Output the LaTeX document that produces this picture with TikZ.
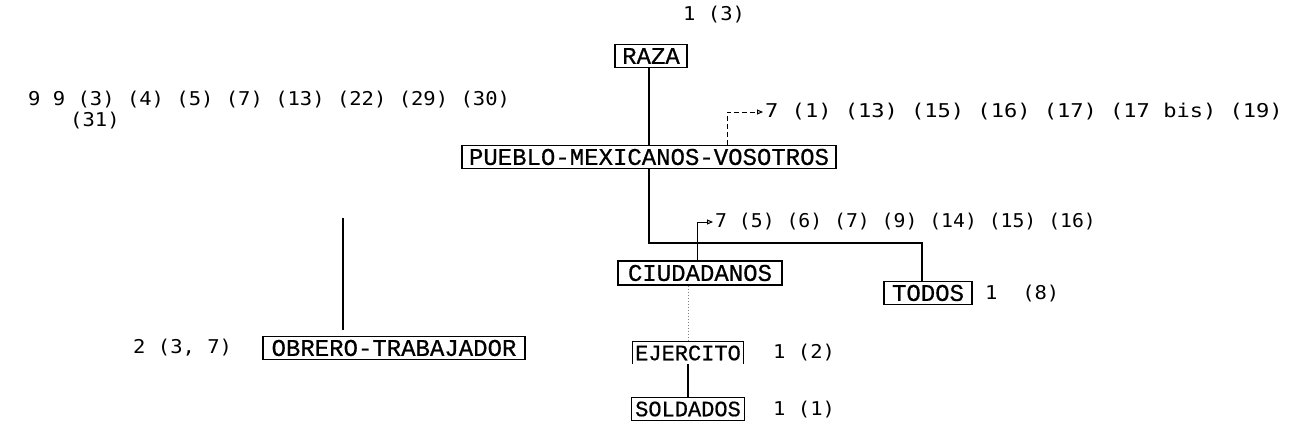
\documentclass[tikz,border=0pt]{standalone}
\usepackage{fontspec}
\newfontfamily\boxf[FakeBold=0.6]{Liberation Mono}
\newfontfamily\numf[FakeStretch=1.08]{DejaVu Sans Mono}
\newfontfamily\numw[FakeStretch=1.16]{DejaVu Sans Mono}
\newfontfamily\numn[FakeStretch=1.04]{DejaVu Sans Mono}
\usetikzlibrary{arrows.meta}
\begin{document}
\begin{tikzpicture}[x=1pt,y=-1pt,
  lbl/.style={draw, line width=1.2pt, inner sep=0pt, font=\boxf\fontsize{24}{24}\selectfont, anchor=center},
  lbls/.style={inner sep=0pt, font=\boxf\fontsize{22}{22}\selectfont, anchor=center},
  num/.style={inner sep=0pt, font=\numf\fontsize{19}{19}\selectfont, anchor=west},
  numwide/.style={inner sep=0pt, font=\numw\fontsize{19}{19}\selectfont, anchor=west},
  numnarrow/.style={inner sep=0pt, font=\numn\fontsize{19}{19}\selectfont, anchor=west},
  conn/.style={line width=1.2pt},
  dash5/.style={dash pattern=on 5pt off 3pt},
  arr/.style={line width=1pt, -{Triangle[open,length=6pt,width=5pt]}, shorten >=2pt}]
\useasboundingbox (0,0) rectangle (1293,436);
% top label
\node[num] (n13) at (683,15) {1 (3)};
% boxes
\node[lbl, minimum width=72pt, minimum height=23pt] (raza) at (651,56) {RAZA};
\node[lbl, minimum width=374pt, minimum height=23pt] (pueblo) at (649,157) {PUEBLO-MEXICANOS-VOSOTROS};
\node[lbl, minimum width=164pt, minimum height=24pt] (ciud) at (700,273) {CIUDADANOS};
\node[lbl, minimum width=88pt, minimum height=23pt] (todos) at (928,293) {TODOS};
\node[lbl, minimum width=262pt, minimum height=23pt] (obrero) at (394,348) {OBRERO-TRABAJADOR};
\node[lbls, minimum width=110pt, minimum height=22pt] (ejer) at (688,353) {EJERCITO};
\node[lbls, draw, line width=1.2pt, minimum width=113pt, minimum height=23pt] (sold) at (688,409) {SOLDADOS};
% number texts
\node[num] (t99) at (28,100) {9 9 (3) (4) (5) (7) (13) (22) (29) (30)};
\node[num] (t31) at (70,121) {(31)};
\node[numwide] (t7a) at (765,112) {7 (1) (13) (15) (16) (17) (17 bis) (19)};
\node[numnarrow] (t7b) at (715,222) {7 (5) (6) (7) (9) (14) (15) (16)};
\node[num] (t18) at (985,294) {1\ \ (8)};
\node[num] (t237) at (133,348) {2 (3, 7)};
\node[num] (t12) at (773,353) {1 (2)};
\node[num] (t11) at (773,410) {1 (1)};
% connectors
\coordinate (j) at (649,243);
\draw[conn] (raza.south -| pueblo) -- (pueblo);
\draw[conn] (pueblo) -- (j) -| (todos.north -| 922,0);
\coordinate (c1) at (727,112);
\draw[arr, dash5] (pueblo.north -| c1) -- (c1) -- (t7a.west);
\coordinate (c2) at (697,222);
\draw[arr] (ciud.north -| c2) -- (c2) -- (t7b.west);
\draw[line width=1pt, dotted, gray] (ciud.south -| ejer) -- (ejer.north);
\draw[conn] (ejer.south west) |- (ejer.north east) -- (ejer.south east);
\draw[conn] (ejer) -- (sold);
\coordinate (f) at (343,218);
\draw[conn, shorten >=6pt] (f) -- (f |- obrero.north);
\end{tikzpicture}
\end{document}
